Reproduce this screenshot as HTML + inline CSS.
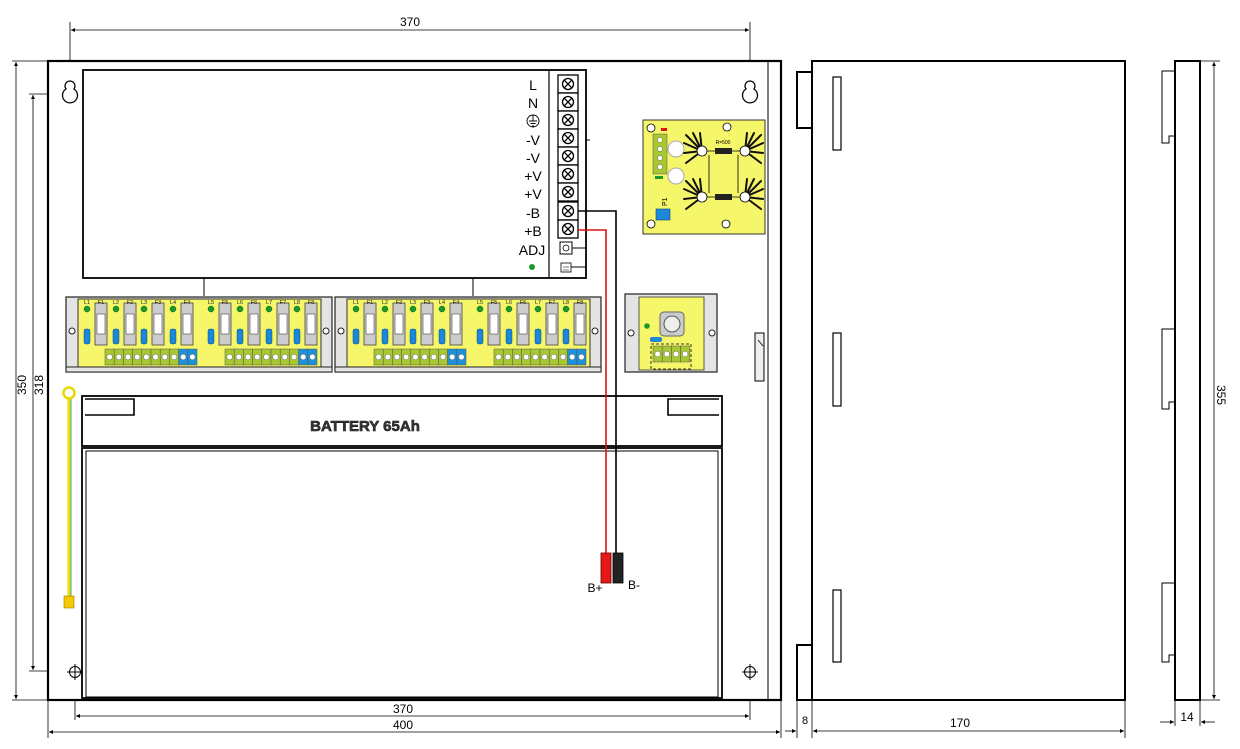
<!DOCTYPE html>
<html><head><meta charset="utf-8"><style>
html,body{margin:0;padding:0;background:#fff;}
svg{display:block;font-family:"Liberation Sans",Arial,sans-serif;}
</style></head><body>
<svg width="1240" height="749" viewBox="0 0 1240 749" xmlns="http://www.w3.org/2000/svg">
<defs>
 <marker id="ar" viewBox="0 0 6 6" refX="6" refY="3" markerWidth="5" markerHeight="5" orient="auto-start-reverse"><path d="M0,0 L6,3 L0,6z" fill="#000"/></marker>
 <g id="fuse">
  <rect x="-6" y="9" width="12" height="42" fill="#ccc" stroke="#444" stroke-width="0.8"/>
  <rect x="-4" y="20" width="8" height="20" fill="#fff" stroke="#444" stroke-width="0.6"/>
 </g>
 <g id="term"><rect x="0" y="0" width="9.2" height="16" fill="#a8c832" stroke="#555" stroke-width="0.5"/><circle cx="4.6" cy="8" r="2.8" fill="#fff" stroke="#666" stroke-width="0.5"/></g>
 <g id="termb"><rect x="0" y="0" width="9.2" height="16" fill="#1e90d8" stroke="#555" stroke-width="0.5"/><circle cx="4.6" cy="8" r="2.8" fill="#fff" stroke="#666" stroke-width="0.5"/></g>
 <g id="board">
  <rect x="0" y="3" width="266" height="75" fill="#e4e4e4" stroke="#222" stroke-width="1.2"/>
  <rect x="12" y="5" width="243" height="70" fill="#f6f66a" stroke="#333" stroke-width="1"/>
  <rect x="0" y="73" width="266" height="5" fill="#e4e4e4" stroke="#222" stroke-width="1"/>
  <circle cx="6" cy="37" r="3" fill="#fff" stroke="#222"/>
  <circle cx="260" cy="37" r="3" fill="#fff" stroke="#222"/>
  <g fill="#1a9a2a" stroke="#0a5a10" stroke-width="0.5">
   <circle cx="21" cy="15" r="3"/><circle cx="50" cy="15" r="3"/><circle cx="78" cy="15" r="3"/><circle cx="107" cy="15" r="3"/>
   <circle cx="145" cy="15" r="3"/><circle cx="174" cy="15" r="3"/><circle cx="203" cy="15" r="3"/><circle cx="231" cy="15" r="3"/>
  </g>
  <use href="#fuse" x="35"/><use href="#fuse" x="64"/><use href="#fuse" x="92"/><use href="#fuse" x="121"/>
  <use href="#fuse" x="159"/><use href="#fuse" x="188"/><use href="#fuse" x="217"/><use href="#fuse" x="245"/>
  <g fill="#1e88d8" stroke="#0a4a80" stroke-width="0.5">
   <rect x="18" y="35" width="6" height="15" rx="2"/><rect x="47" y="35" width="6" height="15" rx="2"/><rect x="75" y="35" width="6" height="15" rx="2"/><rect x="104" y="35" width="6" height="15" rx="2"/>
   <rect x="142" y="35" width="6" height="15" rx="2"/><rect x="171" y="35" width="6" height="15" rx="2"/><rect x="200" y="35" width="6" height="15" rx="2"/><rect x="228" y="35" width="6" height="15" rx="2"/>
  </g>
  <g transform="translate(39,55)">
   <use href="#term" x="0"/><use href="#term" x="9.2"/><use href="#term" x="18.4"/><use href="#term" x="27.6"/><use href="#term" x="36.8"/><use href="#term" x="46"/><use href="#term" x="55.2"/><use href="#term" x="64.4"/><use href="#termb" x="73.6"/><use href="#termb" x="82.8"/>
  </g>
  <g transform="translate(159,55)">
   <use href="#term" x="0"/><use href="#term" x="9.2"/><use href="#term" x="18.4"/><use href="#term" x="27.6"/><use href="#term" x="36.8"/><use href="#term" x="46"/><use href="#term" x="55.2"/><use href="#term" x="64.4"/><use href="#termb" x="73.6"/><use href="#termb" x="82.8"/>
  </g>
  <g font-size="5.5" fill="#222" text-anchor="middle">
   <text x="21" y="10">L1</text><text x="35" y="10">F1</text><text x="50" y="10">L2</text><text x="64" y="10">F2</text><text x="78" y="10">L3</text><text x="92" y="10">F3</text><text x="107" y="10">L4</text><text x="121" y="10">F4</text>
   <text x="145" y="10">L5</text><text x="159" y="10">F5</text><text x="174" y="10">L6</text><text x="188" y="10">F6</text><text x="203" y="10">L7</text><text x="217" y="10">F7</text><text x="231" y="10">L8</text><text x="245" y="10">F8</text>
  </g>
 </g>
 <g id="scr"><rect x="0" y="0" width="20" height="18" fill="#fff" stroke="#000" stroke-width="1.3"/><circle cx="10" cy="9" r="5.5" fill="none" stroke="#000" stroke-width="1.3"/><path d="M6.2,5.2 L13.8,12.8 M13.8,5.2 L6.2,12.8" stroke="#000" stroke-width="1.3"/></g>
 <g id="keyhole"><path d="M-4,-4 A5,5 0 1 1 4,-4 A7.5,7.5 0 1 1 -4,-4 Z" fill="#fff" stroke="#000" stroke-width="1.3"/></g>
 <g id="hs" stroke="#111" stroke-width="2" stroke-linecap="round" fill="none">
  <path d="M0,0 L-16,-16 M0,0 L-18,-8 M0,0 L-18,2 M0,0 L-9,-18 M0,0 L-16,12 M0,0 L-2,-18"/>
 </g>
</defs>

<!-- dimensions -->
<g stroke="#000" stroke-width="0.8" fill="none">
 <line x1="70" y1="22" x2="70" y2="90"/><line x1="750" y1="22" x2="750" y2="90"/>
 <line x1="71" y1="30" x2="749" y2="30" marker-start="url(#ar)" marker-end="url(#ar)"/>
 <line x1="12" y1="61" x2="48" y2="61"/><line x1="12" y1="700" x2="48" y2="700"/>
 <line x1="16" y1="62" x2="16" y2="699" marker-start="url(#ar)" marker-end="url(#ar)"/>
 <line x1="29" y1="94" x2="70" y2="94"/><line x1="29" y1="671" x2="75" y2="671"/>
 <line x1="33" y1="95" x2="33" y2="670" marker-start="url(#ar)" marker-end="url(#ar)"/>
 <line x1="75" y1="672" x2="75" y2="720"/><line x1="750" y1="672" x2="750" y2="720"/>
 <line x1="76" y1="716" x2="749" y2="716" marker-start="url(#ar)" marker-end="url(#ar)"/>
 <line x1="48" y1="700" x2="48" y2="738"/><line x1="781" y1="700" x2="781" y2="738"/>
 <line x1="49" y1="732" x2="780" y2="732" marker-start="url(#ar)" marker-end="url(#ar)"/>
 <line x1="797" y1="700" x2="797" y2="738"/><line x1="812" y1="700" x2="812" y2="738"/><line x1="1125" y1="700" x2="1125" y2="738"/>
 <line x1="813" y1="731" x2="1124" y2="731" marker-start="url(#ar)" marker-end="url(#ar)"/>
 <line x1="785" y1="731" x2="796" y2="731" marker-end="url(#ar)"/>
 <line x1="1200" y1="61" x2="1220" y2="61"/><line x1="1200" y1="700" x2="1220" y2="700"/>
 <line x1="1214" y1="62" x2="1214" y2="699" marker-start="url(#ar)" marker-end="url(#ar)"/>
 <line x1="1175" y1="700" x2="1175" y2="726"/><line x1="1200" y1="700" x2="1200" y2="726"/>
 <line x1="1160" y1="722" x2="1174" y2="722" marker-end="url(#ar)"/><line x1="1215" y1="722" x2="1201" y2="722" marker-end="url(#ar)"/>
</g>
<g font-size="12" fill="#000" text-anchor="middle">
 <text x="410" y="26">370</text>
 <text x="403" y="713">370</text>
 <text x="403" y="729">400</text>
 <text x="960" y="727">170</text>
 <text x="805" y="724" font-size="11">8</text>
 <text x="1187" y="721">14</text>
 <text transform="translate(26,385) rotate(-90)">350</text>
 <text transform="translate(43,385) rotate(-90)">318</text>
 <text transform="translate(1217,395) rotate(90)">355</text>
</g>

<!-- main enclosure -->
<rect x="48" y="61" width="733" height="639" fill="#fff" stroke="#000" stroke-width="2.2"/>
<line x1="768" y1="62" x2="768" y2="699" stroke="#000" stroke-width="1"/>
<rect x="755" y="333" width="9" height="48" fill="#eee" stroke="#000" stroke-width="1"/>
<line x1="758" y1="340" x2="763" y2="346" stroke="#000" stroke-width="0.8"/>
<use href="#keyhole" x="70" y="93"/>
<use href="#keyhole" x="750" y="93"/>
<g stroke="#000" stroke-width="1" fill="none">
 <circle cx="75" cy="672" r="5.5"/><path d="M67,672 H83 M75,664 V680"/>
 <circle cx="750" cy="672" r="5.5"/><path d="M742,672 H758 M750,664 V680"/>
</g>

<!-- PSU -->
<rect x="83" y="70" width="503" height="208" fill="#fff" stroke="#000" stroke-width="1.8"/>
<line x1="549" y1="70" x2="549" y2="278" stroke="#000" stroke-width="1.2"/>
<use href="#scr" x="558" y="75"/><use href="#scr" x="558" y="93"/><use href="#scr" x="558" y="111"/><use href="#scr" x="558" y="129"/>
<use href="#scr" x="558" y="147"/><use href="#scr" x="558" y="165"/><use href="#scr" x="558" y="183"/><use href="#scr" x="558" y="202"/><use href="#scr" x="558" y="220"/>
<rect x="560" y="242" width="12" height="12" fill="#fff" stroke="#000"/><circle cx="566" cy="248" r="3" fill="none" stroke="#000" stroke-width="0.8"/>
<rect x="561" y="263" width="10" height="9" fill="#fff" stroke="#000" stroke-width="0.8"/><path d="M563,267 H569 M563,270 H569" stroke="#000" stroke-width="0.6"/>
<path d="M572,248 H586 M571,267 H586" stroke="#000" stroke-width="1"/>
<g font-size="14" fill="#000" text-anchor="middle">
 <text x="533" y="90">L</text><text x="533" y="108">N</text>
 <text x="533" y="145">-V</text><text x="533" y="163">-V</text><text x="533" y="181">+V</text><text x="533" y="199">+V</text>
 <text x="533" y="218">-B</text><text x="533" y="236">+B</text><text x="532" y="255">ADJ</text>
</g>
<circle cx="533" cy="121" r="6" fill="none" stroke="#000" stroke-width="0.9"/>
<path d="M533,115 V121 M529,121 H537 M530.5,123.5 H535.5 M532,126 H534" stroke="#000" stroke-width="0.9"/>
<circle cx="532" cy="267" r="3" fill="#1a9a2a"/>
<line x1="586" y1="140" x2="590" y2="140" stroke="#000"/>

<!-- fuse boards -->
<line x1="204" y1="278" x2="204" y2="296" stroke="#000"/>
<line x1="473" y1="278" x2="473" y2="296" stroke="#000"/>
<use href="#board" x="66" y="294"/>
<use href="#board" x="335" y="294"/>

<!-- small module -->
<rect x="625" y="294" width="92" height="78" fill="#e4e4e4" stroke="#222" stroke-width="1.2"/>
<rect x="639" y="297" width="65" height="73" fill="#f6f66a" stroke="#333" stroke-width="0.8"/>
<circle cx="631" cy="333" r="3" fill="#fff" stroke="#222"/><circle cx="712" cy="333" r="3" fill="#fff" stroke="#222"/>
<rect x="660" y="312" width="24" height="24" rx="4" fill="#ccc" stroke="#666"/><circle cx="672" cy="324" r="8" fill="#eee" stroke="#555"/>
<circle cx="647" cy="326" r="2.8" fill="#1a9a2a"/>
<rect x="650" y="337" width="12" height="5" rx="2" fill="#1e88d8"/>
<rect x="651" y="344" width="40" height="25" fill="none" stroke="#000" stroke-width="0.8" stroke-dasharray="3,2"/>
<use href="#term" x="653" y="346"/><use href="#term" x="662.2" y="346"/><use href="#term" x="671.4" y="346"/><use href="#term" x="680.6" y="346"/>

<!-- PCB top right -->
<rect x="643" y="120" width="122" height="114" fill="#f6f66a" stroke="#333" stroke-width="1"/>
<g fill="#fff" stroke="#000" stroke-width="0.8">
 <circle cx="651" cy="128" r="4"/><circle cx="727" cy="127" r="4"/><circle cx="651" cy="224" r="4"/><circle cx="726" cy="224" r="4"/>
</g>
<rect x="661" y="128" width="6" height="3" fill="#e01010"/>
<rect x="653" y="134" width="14" height="40" fill="#a8c832" stroke="#555" stroke-width="0.5"/>
<g fill="#fff" stroke="#666" stroke-width="0.5"><circle cx="660" cy="140" r="2.5"/><circle cx="660" cy="149" r="2.5"/><circle cx="660" cy="158" r="2.5"/><circle cx="660" cy="167" r="2.5"/></g>
<rect x="655" y="176" width="8" height="3" fill="#1a9a2a"/>
<circle cx="676" cy="149" r="8" fill="#fff" stroke="#aaa"/><circle cx="676" cy="176" r="8" fill="#fff" stroke="#aaa"/>
<rect x="656" y="209" width="14" height="11" fill="#1e88d8" stroke="#0a4a80" stroke-width="0.6"/>
<text x="667" y="206" font-size="7" transform="rotate(-90 667 206)">P1</text>
<use href="#hs" x="702" y="151"/><use href="#hs" x="702" y="197"/>
<use href="#hs" x="745" y="151" transform="translate(1490,0) scale(-1,1)"/>
<use href="#hs" x="745" y="197" transform="translate(1490,0) scale(-1,1)"/>
<g fill="#fff" stroke="#000" stroke-width="0.8"><circle cx="702" cy="151" r="5"/><circle cx="745" cy="151" r="5"/><circle cx="702" cy="197" r="5"/><circle cx="745" cy="197" r="5"/></g>
<path d="M707,151 H740 M707,197 H740 M709,155 V193 M738,155 V193" stroke="#000" stroke-width="0.8" fill="none"/>
<rect x="715" y="148" width="17" height="6" fill="#222"/><rect x="715" y="194" width="17" height="6" fill="#222"/>
<text x="723" y="144" font-size="5" text-anchor="middle">R=500</text>

<!-- battery -->
<g stroke="#000" fill="#fff">
 <rect x="82" y="396" width="640" height="50" stroke-width="1.8"/>
 <path d="M85,399 H134 V415 H85" fill="none" stroke-width="1.6"/>
 <path d="M719,399 H668 V415 H719" fill="none" stroke-width="1.6"/>
 <rect x="82" y="448" width="640" height="250" stroke-width="1.8"/>
 <rect x="86" y="451" width="632" height="246" fill="none" stroke-width="1"/>
</g>
<text x="365" y="431" font-size="15" font-weight="bold" text-anchor="middle" fill="#fff" stroke="#000" stroke-width="0.6">BATTERY 65Ah</text>
<text x="365" y="431" font-size="15" font-weight="bold" text-anchor="middle" fill="#333">BATTERY 65Ah</text>

<!-- wires (on top of battery) -->
<path d="M578,211 H616 V553" fill="none" stroke="#000" stroke-width="1.6"/>
<path d="M578,230 H606 V553" fill="none" stroke="#e01010" stroke-width="1.6"/>
<rect x="601" y="553" width="10" height="30" fill="#e61818" stroke="#600" stroke-width="0.8"/>
<rect x="613" y="553" width="10" height="30" fill="#222" stroke="#000" stroke-width="0.8"/>
<text x="595" y="592" font-size="12" text-anchor="middle">B+</text>
<text x="634" y="589" font-size="12" text-anchor="middle">B-</text>

<!-- ground wire -->
<line x1="69" y1="396" x2="69" y2="600" stroke="#e8e000" stroke-width="3"/>
<line x1="71" y1="396" x2="71" y2="600" stroke="#4a9" stroke-width="1"/>
<circle cx="69" cy="393" r="5.5" fill="#fff" stroke="#e8d800" stroke-width="2.5"/>
<rect x="64" y="596" width="10" height="12" fill="#f5c800" stroke="#a08000" stroke-width="0.6"/>

<!-- side view -->
<rect x="812" y="61" width="313" height="639" fill="#fff" stroke="#000" stroke-width="2"/>
<rect x="797" y="72" width="15" height="56" fill="#fff" stroke="#000" stroke-width="2"/>
<rect x="797" y="645" width="15" height="55" fill="#fff" stroke="#000" stroke-width="2"/>
<rect x="833" y="77" width="8" height="73" fill="#fff" stroke="#000" stroke-width="1.2"/>
<rect x="833" y="333" width="8" height="73" fill="#fff" stroke="#000" stroke-width="1.2"/>
<rect x="833" y="590" width="8" height="72" fill="#fff" stroke="#000" stroke-width="1.2"/>

<!-- front-thin view -->
<rect x="1175" y="61" width="25" height="639" fill="#fff" stroke="#000" stroke-width="2"/>
<g fill="none" stroke="#000" stroke-width="1">
 <path d="M1175,71 H1162 V143 H1169 V136 H1175"/>
 <path d="M1175,329 H1162 V409 H1169 V402 H1175"/>
 <path d="M1175,583 H1162 V662 H1169 V655 H1175"/>
</g>
</svg>
</body></html>
